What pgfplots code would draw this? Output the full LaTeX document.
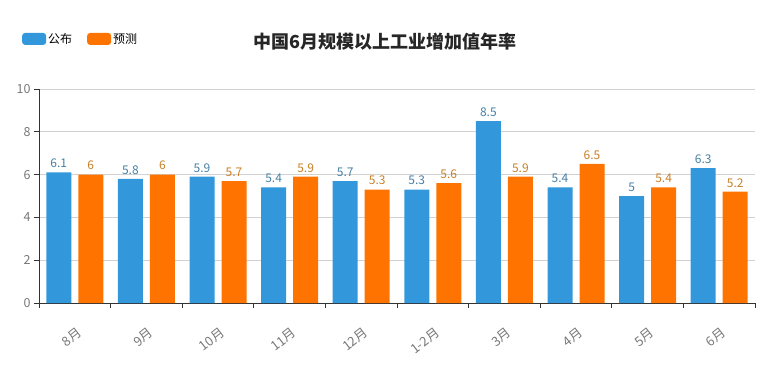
\documentclass[border=0pt]{standalone}
\usepackage{pgfplots}
\pgfplotsset{compat=1.18}
\usepackage{fontspec}
\setmainfont{Noto Sans CJK SC}
\definecolor{cblue}{RGB}{51,152,219}
\definecolor{corange}{RGB}{255,116,0}
\definecolor{lblue}{RGB}{70,128,165}
\definecolor{lorange}{RGB}{200,128,40}
\definecolor{tickgray}{RGB}{120,120,120}
\definecolor{gridgray}{RGB}{210,210,210}
\begin{document}
\begin{tikzpicture}
\useasboundingbox (0,0) rectangle (766pt,376pt);
\begin{axis}[
  at={(39pt,73pt)}, anchor=south west,
  scale only axis, width=716pt, height=214pt,
  ymin=0, ymax=10, ytick={0,2,4,6,8,10},
  xmin=-0.5, xmax=9.5,
  xtick={0,...,9},
  xticklabels={8月,9月,10月,11月,12月,1-2月,3月,4月,5月,6月},
  minor xtick={-0.5,0.5,...,9.5},
  major x tick style={draw=none},
  minor tick length=5pt, major tick length=5pt,
  tick align=outside,
  axis x line*=bottom, axis y line*=left,
  axis line style={draw=black!80, line width=0.8pt},
  tick style={draw=black!80, line width=0.8pt},
  ymajorgrids, grid style={gridgray, line width=0.7pt},
  ybar=7pt, bar width=25pt,
  /pgf/number format/assume math mode=true,
  tick label style={font=\fontsize{12.5}{14}\selectfont, text=tickgray},
  x tick label style={font=\fontsize{13}{15}\selectfont, rotate=38, anchor=north east, yshift=-12pt, xshift=-7pt},
  nodes near coords,
  nodes near coords style={font=\fontsize{12}{14}\selectfont, yshift=1pt},
  legend style={at={(-0.028,1.234)}, anchor=west, draw=none, fill=none,
    font=\fontsize{12}{14}\selectfont, legend columns=2,
    /tikz/every even column/.append style={column sep=13pt}},
  legend image code/.code={\fill[#1, rounded corners=3pt] (0pt,-6pt) rectangle (24pt,6pt);},
]
\addplot[fill=cblue, draw=none, every node near coord/.append style={text=lblue}]
  coordinates {(0,6.1) (1,5.8) (2,5.9) (3,5.4) (4,5.7) (5,5.3) (6,8.5) (7,5.4) (8,5) (9,6.3)};
\addplot[fill=corange, draw=none, every node near coord/.append style={text=lorange}]
  coordinates {(0,6) (1,6) (2,5.7) (3,5.9) (4,5.3) (5,5.6) (6,5.9) (7,6.5) (8,5.4) (9,5.2)};
\legend{公布,预测}
\end{axis}
\node[font=\fontsize{18}{21}\selectfont\bfseries, text=black!85] at (385pt,334pt) {中国6月规模以上工业增加值年率};
\end{tikzpicture}
\end{document}
